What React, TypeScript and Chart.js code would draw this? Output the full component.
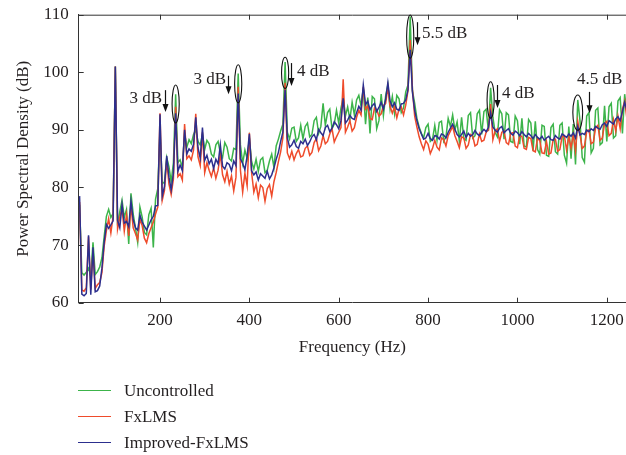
import React, { useEffect, useRef } from 'react';
import { Chart, registerables } from 'chart.js';

Chart.register(...registerables);

// Frequency grid of the spectra (Hz): first bin and bin spacing
const firstFrequencyHz = 20;
const frequencyStepHz = 5;

// Improved-FxLMS (dB), one value per 5 Hz from 20 Hz
const improvedFxLMS = [
  78.5, 61.5, 61.2, 61.6, 71.7, 61.4, 69.6, 61.9, 62.1, 62.9,
  66.0, 70.5, 73.6, 72.9, 73.5, 74.2, 101.0, 74.3, 73.0, 77.0,
  73.8, 74.1, 73.2, 77.6, 74.4, 73.0, 72.6, 75.2, 74.0, 73.3,
  72.6, 73.5, 74.4, 75.0, 76.8, 76.9, 92.7, 78.5, 80.2, 85.5,
  81.8, 79.6, 82.5, 92.9, 82.8, 83.9, 82.9, 90.0, 85.8, 86.7,
  86.3, 87.5, 92.2, 86.9, 85.1, 90.4, 84.7, 85.6, 84.1, 84.9,
  83.3, 84.9, 84.1, 87.4, 83.7, 83.2, 84.3, 84.0, 82.9, 84.6,
  83.8, 96.3, 85.0, 84.2, 83.1, 85.4, 89.3, 82.9, 82.2, 82.7,
  81.3, 82.4, 82.0, 81.6, 82.8, 81.5, 82.2, 83.4, 84.9, 86.1,
  88.0, 89.6, 97.0, 88.6, 87.0, 87.4, 88.2, 87.1, 86.8, 88.0,
  87.6, 88.4, 87.3, 87.9, 88.8, 89.2, 88.3, 90.1, 89.5, 89.0,
  90.4, 90.8, 89.7, 90.3, 91.4, 90.9, 90.2, 91.6, 95.5, 91.2,
  91.7, 92.5, 92.0, 91.8, 93.0, 94.1, 93.4, 97.8, 94.4, 95.0,
  93.5, 94.2, 94.6, 93.2, 93.9, 94.8, 93.6, 95.3, 98.2, 95.0,
  94.0, 94.7, 93.6, 93.4, 94.5, 94.6, 95.2, 97.0, 103.9, 96.5,
  93.4, 91.6, 90.2, 89.3, 88.4, 88.6, 89.4, 88.5, 88.2, 89.0,
  88.9, 88.4, 89.3, 89.1, 88.6, 89.6, 90.3, 91.0, 90.1, 89.2,
  88.8, 89.2, 89.8, 88.7, 89.4, 88.9, 89.2, 89.9, 89.3, 89.0,
  89.6, 90.1, 89.7, 90.4, 93.0, 90.5, 90.0, 89.6, 90.3, 90.6,
  89.5, 89.9, 90.2, 89.4, 89.1, 89.8, 89.5, 89.0, 89.7, 89.2,
  88.8, 89.4, 89.0, 88.5, 89.2, 88.7, 88.4, 88.9, 88.2, 88.6,
  88.9, 88.3, 88.2, 89.0, 88.6, 88.4, 89.3, 89.0, 88.7, 89.3,
  88.9, 89.5, 88.6, 90.6, 89.1, 89.4, 89.2, 90.0, 89.7, 90.2,
  89.9, 90.6, 90.3, 90.1, 90.9, 91.2, 90.6, 91.6, 91.3, 91.0,
  91.9, 92.3, 91.6, 93.2, 94.8, 93.4,
];

// FxLMS (dB)
const fxLMS = [
  77.5, 62.2, 62.0, 62.6, 71.5, 62.3, 69.0, 62.5, 63.1, 63.5,
  65.2, 69.8, 72.5, 74.6, 72.1, 75.0, 101.0, 72.8, 74.8, 76.4,
  72.4, 75.3, 71.6, 76.8, 73.0, 72.0, 70.9, 74.5, 73.4, 71.2,
  70.4, 72.0, 73.0, 74.0, 75.4, 76.6, 92.9, 77.8, 79.5, 84.8,
  80.6, 78.8, 81.5, 94.0, 81.9, 82.4, 81.3, 91.0, 85.0, 85.5,
  84.8, 86.5, 92.8, 85.3, 83.8, 89.6, 82.6, 84.3, 83.0, 81.9,
  83.4, 81.6, 83.0, 85.8, 82.2, 81.0, 82.8, 80.6, 82.0, 79.4,
  81.8, 97.5, 83.0, 79.2, 82.5, 80.3, 89.5, 82.6, 79.2, 80.6,
  78.2, 80.4, 80.0, 77.6, 79.8, 80.5, 78.5, 81.0, 82.6, 84.5,
  86.2, 88.6, 98.2, 86.0, 85.0, 86.3, 84.8, 85.9, 86.6, 85.3,
  85.5, 86.8, 87.2, 85.6, 86.1, 87.8, 88.5, 86.4, 87.2, 89.0,
  87.6, 88.0, 89.3, 90.2, 87.9, 88.8, 89.6, 90.4, 98.8, 89.6,
  90.5, 91.6, 89.8, 90.4, 92.2, 93.4, 92.6, 97.5, 93.6, 94.2,
  92.0, 91.8, 93.8, 93.5, 92.4, 92.8, 94.2, 94.6, 97.4, 94.1,
  92.9, 94.0, 92.1, 93.6, 94.0, 92.6, 94.3, 96.8, 105.6, 97.0,
  92.4, 90.5, 88.8, 87.6, 86.6, 88.1, 87.5, 85.9, 86.8, 88.2,
  87.0, 86.5, 88.6, 88.3, 87.2, 89.0, 89.8, 90.6, 89.0, 88.0,
  86.9, 88.8, 88.6, 86.8, 87.4, 89.2, 88.9, 87.2, 87.5, 89.3,
  88.0, 88.2, 89.6, 90.0, 94.5, 88.3, 89.8, 90.2, 88.0, 89.6,
  89.8, 87.8, 87.5, 89.4, 89.5, 87.2, 86.9, 89.0, 88.9, 86.8,
  86.6, 88.7, 88.5, 86.4, 86.2, 88.6, 88.1, 86.0, 85.9, 88.0,
  85.8, 86.0, 88.3, 88.4, 86.3, 86.6, 88.8, 89.0, 86.5, 88.8,
  86.9, 89.2, 86.4, 91.5, 89.2, 86.8, 87.2, 89.7, 90.0, 87.6,
  87.9, 90.4, 90.8, 88.2, 88.6, 91.1, 91.5, 89.0, 89.4, 91.8,
  89.8, 92.4, 90.2, 93.6, 95.0, 92.0,
];

// Uncontrolled (dB)
const uncontrolled = [
  77.0, 65.2, 64.8, 65.3, 66.0, 64.6, 70.5, 64.9, 65.4, 66.2,
  67.8, 71.5, 75.0, 76.2, 74.8, 75.5, 101.0, 73.4, 75.8, 77.8,
  74.8, 76.2, 70.2, 79.0, 75.4, 73.0, 70.5, 76.6, 74.9, 72.2,
  71.8, 75.3, 76.4, 69.6, 78.0, 79.8, 90.0, 80.6, 81.0, 85.2,
  83.6, 81.0, 84.3, 96.2, 84.3, 84.8, 83.5, 89.4, 87.0, 88.3,
  87.6, 89.2, 90.0, 88.0, 87.4, 89.2, 86.6, 88.2, 87.6, 85.8,
  85.3, 87.4, 88.0, 86.0, 85.2, 87.8, 87.0, 85.0, 84.6, 86.8,
  86.6, 99.8, 87.4, 84.2, 86.5, 85.0, 88.5, 84.5, 83.2, 84.9,
  82.8, 84.8, 85.2, 82.6, 83.0, 84.6, 85.8, 83.5, 87.2, 88.4,
  89.8, 91.0, 101.8, 89.6, 88.4, 90.3, 90.5, 88.0, 88.6, 90.8,
  88.4, 90.6, 91.2, 88.8, 89.2, 91.6, 92.2, 89.4, 90.6, 94.6,
  90.8, 93.0, 93.6, 90.2, 91.0, 93.4, 91.2, 93.8, 95.6, 92.4,
  94.0, 91.8, 94.8, 92.6, 95.2, 96.0, 94.2, 97.2, 91.0, 95.6,
  89.4, 95.8, 95.4, 90.2, 91.6, 96.2, 92.5, 95.9, 97.8, 93.6,
  95.8, 92.8, 96.0, 95.4, 93.0, 93.8, 96.6, 97.8, 109.7, 96.8,
  94.6, 92.0, 90.5, 89.4, 88.6, 90.4, 91.0, 88.0, 88.4, 90.8,
  88.2, 91.3, 91.5, 88.0, 88.8, 92.0, 90.6, 92.6, 90.0, 91.4,
  88.0, 92.2, 88.5, 88.2, 92.5, 93.0, 88.6, 89.0, 92.8, 93.4,
  89.2, 93.2, 93.6, 89.8, 97.3, 92.2, 89.6, 88.8, 93.5, 92.8,
  88.4, 93.0, 92.6, 88.0, 87.8, 92.4, 91.6, 87.5, 92.0, 87.2,
  87.0, 91.8, 91.2, 86.4, 91.5, 86.6, 85.8, 90.8, 90.6, 85.6,
  85.4, 90.4, 91.0, 86.2, 85.8, 90.8, 91.2, 85.6, 84.2, 90.6,
  85.0, 91.0, 84.0, 95.2, 91.6, 85.2, 84.4, 92.4, 93.0, 86.0,
  86.8, 93.4, 93.8, 87.4, 87.8, 94.2, 88.0, 94.0, 94.6, 88.6,
  89.0, 95.0, 95.6, 89.4, 96.2, 93.0,
];

const seriesNames = ['Uncontrolled', 'FxLMS', 'Improved-FxLMS'];
const xTickValues = [200, 400, 600, 800, 1000, 1200];
const yTickValues = [60, 70, 80, 90, 100, 110];
const xRange = [18, 1243];
const yRange = [60, 110];

// Reduction annotations (data coordinates)
const reductionLabels = ['3 dB', '3 dB', '4 dB', '5.5 dB', '4 dB', '4.5 dB'];
const reductionPeakHz = [235, 375, 480, 760, 940, 1135];

const annotationLayout = [
  { eDb: 94.5, eHalfDb: 3.3, eHalfHz: 8, aHz: 211, aTop: 96.9, aBot: 93.1, tHz: 204.4, tDb: 95.4, align: 'right' },
  { eDb: 98.0, eHalfDb: 3.3, eHalfHz: 8, aHz: 352, aTop: 99.4, aBot: 96.2, tHz: 347.7, tDb: 98.7, align: 'right' },
  { eDb: 99.9, eHalfDb: 2.7, eHalfHz: 8, aHz: 493, aTop: 101.6, aBot: 97.6, tHz: 506.8, tDb: 100.05, align: 'left' },
  { eDb: 106.2, eHalfDb: 3.75, eHalfHz: 8, aHz: 776, aTop: 108.7, aBot: 104.7, tHz: 786.5, tDb: 106.8, align: 'left' },
  { eDb: 95.2, eHalfDb: 3.15, eHalfHz: 8, aHz: 955, aTop: 97.8, aBot: 93.8, tHz: 965.6, tDb: 96.4, align: 'left' },
  { eDb: 93.0, eHalfDb: 3.05, eHalfHz: 11, aHz: 1160, aTop: 96.6, aBot: 92.9, tHz: 1133.5, tDb: 98.7, align: 'left' },
];

const COLORS = ['#3cb44a', '#ef4b2b', '#2c2f8e'];
const FONT = "'Liberation Serif', 'DejaVu Serif', serif";
const TEXT = '#231f20';

const framePlugin = {
  id: 'frameAndNotes',
  afterDatasetsDraw(chart: any) {
    const { ctx, chartArea: a, scales } = chart;
    const x = scales.x;
    const y = scales.y;
    ctx.save();
    ctx.strokeStyle = '#333';
    ctx.lineWidth = 1;
    const seg = (x1: number, y1: number, x2: number, y2: number) => {
      ctx.beginPath();
      ctx.moveTo(x1, y1);
      ctx.lineTo(x2, y2);
      ctx.stroke();
    };
    seg(a.left, a.top + 0.5, a.right, a.top + 0.5);
    xTickValues.forEach((v) => {
      const px = Math.round(x.getPixelForValue(v)) + 0.5;
      seg(px, a.bottom, px, a.bottom - 5);
      seg(px, a.top, px, a.top + 5);
    });
    yTickValues.forEach((v) => {
      const py = Math.round(y.getPixelForValue(v)) + 0.5;
      seg(a.left, py, a.left + 5, py);
    });

    ctx.strokeStyle = '#111';
    ctx.fillStyle = '#111';
    ctx.font = `17px ${FONT}`;
    ctx.textBaseline = 'middle';
    reductionPeakHz.forEach((hz, i) => {
      const L = annotationLayout[i];
      const cx = x.getPixelForValue(hz);
      const cy = y.getPixelForValue(L.eDb);
      const rx = Math.abs(x.getPixelForValue(hz + L.eHalfHz) - cx);
      const ry = Math.abs(y.getPixelForValue(L.eDb + L.eHalfDb) - cy);
      ctx.lineWidth = 1.1;
      ctx.beginPath();
      ctx.ellipse(cx, cy, rx, ry, 0, 0, Math.PI * 2);
      ctx.stroke();
      const ax = Math.round(x.getPixelForValue(L.aHz)) + 0.5;
      const ay1 = y.getPixelForValue(L.aTop);
      const ay2 = y.getPixelForValue(L.aBot);
      ctx.lineWidth = 1.2;
      seg(ax, ay1, ax, ay2 - 6);
      ctx.beginPath();
      ctx.moveTo(ax - 3, ay2 - 8);
      ctx.lineTo(ax + 3, ay2 - 8);
      ctx.lineTo(ax, ay2);
      ctx.closePath();
      ctx.fill();
      ctx.fillStyle = TEXT;
      ctx.textAlign = L.align as CanvasTextAlign;
      ctx.fillText(reductionLabels[i], x.getPixelForValue(L.tHz), y.getPixelForValue(L.tDb));
      ctx.fillStyle = '#111';
    });
    ctx.restore();
  },
};

export default function App() {
  const ref = useRef<HTMLCanvasElement | null>(null);

  useEffect(() => {
    if (!ref.current) return;
    const freqs = improvedFxLMS.map((_, i) => firstFrequencyHz + frequencyStepHz * i);
    const seriesValues = [uncontrolled, fxLMS, improvedFxLMS];
    const chart = new Chart(ref.current, {
      type: 'line',
      data: {
        datasets: seriesNames.map((name, k) => ({
          label: name,
          data: seriesValues[k].map((v, i) => ({ x: freqs[i], y: v })),
          borderColor: COLORS[k],
          borderWidth: 1.5,
          pointRadius: 0,
          tension: 0,
          order: 3 - k,
        })),
      },
      options: {
        responsive: false,
        animation: false,
        events: [],
        layout: { padding: { top: 14.7, right: 0, bottom: 95, left: 0 } },
        plugins: { legend: { display: false }, tooltip: { enabled: false } },
        scales: {
          x: {
            type: 'linear',
            min: xRange[0],
            max: xRange[1],
            afterBuildTicks: (s: any) => { s.ticks = xTickValues.map((v) => ({ value: v })); },
            afterFit: (s: any) => { s.height = 57.3; s.paddingRight = 0; s.paddingLeft = 0; },
            grid: { display: false, drawTicks: false },
            border: { display: true, color: '#333', width: 1 },
            ticks: { padding: 8, color: TEXT, font: { family: FONT, size: 17 }, maxRotation: 0, callback: (v: any) => String(v) },
            title: { display: true, text: 'Frequency (Hz)', color: TEXT, font: { family: FONT, size: 17 }, padding: { top: 0, bottom: 2 } },
          },
          y: {
            type: 'linear',
            min: yRange[0],
            max: yRange[1],
            afterBuildTicks: (s: any) => { s.ticks = yTickValues.map((v) => ({ value: v })); },
            afterFit: (s: any) => { s.width = 78.7; s.paddingTop = 0; s.paddingBottom = 0; },
            grid: { display: false, drawTicks: false },
            border: { display: true, color: '#333', width: 1 },
            ticks: { padding: 10, color: TEXT, font: { family: FONT, size: 17 }, callback: (v: any) => String(v) },
            title: { display: true, text: 'Power Spectral Density (dB)', color: TEXT, font: { family: FONT, size: 17 }, padding: { top: 13, bottom: 0 } },
          },
        },
      },
      plugins: [framePlugin],
    });
    return () => chart.destroy();
  }, []);

  const legendRows = [390.7, 416.7, 442.7];

  return (
    <div style={{ position: 'fixed', left: 0, top: 0, width: 626, height: 455, background: '#fff', overflow: 'hidden' }}>
      <canvas ref={ref} width={626} height={455} style={{ display: 'block', width: 626, height: 455 }} />
      {seriesNames.map((name, k) => (
        <div key={name} style={{ position: 'absolute', left: 0, top: legendRows[k] - 10, height: 20, width: 626 }}>
          <div style={{ position: 'absolute', left: 78, top: 9.5, width: 33, height: 0, borderTop: `1.5px solid ${COLORS[k]}` }} />
          <div style={{ position: 'absolute', left: 124, top: 0, lineHeight: '20px', fontFamily: FONT, fontSize: 17, color: TEXT, whiteSpace: 'nowrap' }}>{name}</div>
        </div>
      ))}
    </div>
  );
}
